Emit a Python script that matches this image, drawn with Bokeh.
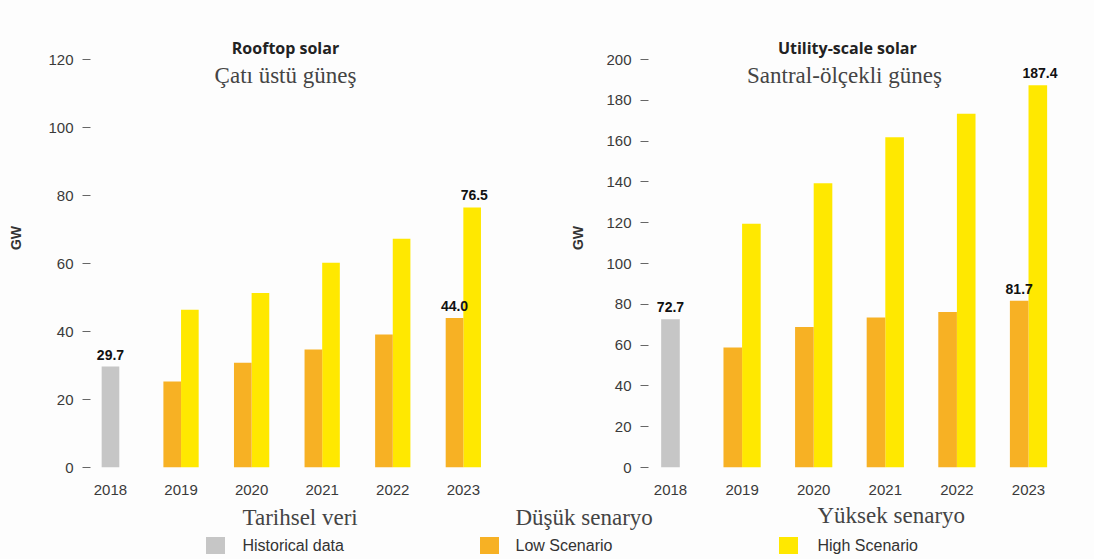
from bokeh.plotting import figure
from bokeh.layouts import column, row
from bokeh.models import ColumnDataSource, Label, Range1d, FixedTicker
from bokeh.transform import dodge
from bokeh.core.properties import value
from bokeh.embed import file_html
from bokeh.resources import INLINE

# ---------------- data ----------------
hist_years = [2018]
proj_years = [2019, 2020, 2021, 2022, 2023]
year_ticks = [2018, 2019, 2020, 2021, 2022, 2023]

rooftop_hist = [29.7]
rooftop_low = [25.3, 30.8, 34.7, 39.1, 44.0]
rooftop_high = [46.4, 51.3, 60.2, 67.3, 76.5]

utility_hist = [72.7]
utility_low = [58.8, 68.9, 73.5, 76.2, 81.7]
utility_high = [119.5, 139.3, 161.9, 173.4, 187.4]

y_ticks_rooftop = [0, 20, 40, 60, 80, 100, 120]
y_ticks_utility = [0, 20, 40, 60, 80, 100, 120, 140, 160, 180, 200]

legend_en = ["Historical data", "Low Scenario", "High Scenario"]
legend_tr = ["Tarihsel veri", "Düşük senaryo", "Yüksek senaryo"]

# ---------------- style ----------------
C_HIST = "#c6c6c6"
C_LOW = "#f7b124"
C_HIGH = "#ffe800"
BG = "#fdfdfd"
TICK_TXT = "#3a3a3a"
SANS = "Liberation Sans"
SERIF = "Liberation Serif"


def panel(title_en, title_tr, hist, low, high, y_end, y_ticks,
          x_start, x_end, border_left, border_right, title_x, t1_y, t2_y,
          gw_standoff, bar_w):
    p = figure(width=547, height=500, output_backend="svg", toolbar_location=None,
               x_range=Range1d(x_start, x_end), y_range=Range1d(0, y_end),
               min_border_left=border_left, min_border_right=border_right,
               min_border_top=8, min_border_bottom=33)
    p.background_fill_color = BG
    p.border_fill_color = BG
    p.outline_line_color = None
    p.grid.visible = False

    hs = ColumnDataSource(dict(year=hist_years, v=hist))
    ps = ColumnDataSource(dict(year=proj_years, low=low, high=high))
    p.vbar(x="year", top="v", bottom=0, width=bar_w, source=hs,
           fill_color=C_HIST, line_color=None)
    p.vbar(x=dodge("year", bar_w / 2, range=p.x_range), top="high", bottom=0,
           width=bar_w, source=ps, fill_color=C_HIGH, line_color=None)
    p.vbar(x=dodge("year", -bar_w / 2, range=p.x_range), top="low", bottom=0,
           width=bar_w, source=ps, fill_color=C_LOW, line_color=None)

    # value labels: historical value and last projected values
    lab_h = ColumnDataSource(dict(year=hist_years, v=hist,
                                  t=[f"{x:.1f}" for x in hist]))
    lab_l = ColumnDataSource(dict(year=proj_years[-1:], v=low[-1:],
                                  t=[f"{x:.1f}" for x in low[-1:]]))
    lab_u = ColumnDataSource(dict(year=proj_years[-1:], v=high[-1:],
                                  t=[f"{x:.1f}" for x in high[-1:]]))
    common = dict(text="t", y="v", text_align="center", text_baseline="bottom",
                  y_offset=-7, text_font=value(SANS), text_font_style="bold",
                  text_font_size="14px", text_color="#111111")
    p.text(x="year", source=lab_h, **common)
    p.text(x=dodge("year", -bar_w / 2, range=p.x_range), source=lab_l, **common)
    p.text(x=dodge("year", bar_w / 2 + 0.03, range=p.x_range), source=lab_u, **common)

    # titles
    p.add_layout(Label(x=title_x, y=t1_y, text=title_en, text_align="center",
                       text_baseline="middle", text_font="Open Sans",
                       text_font_style="bold", text_font_size="16px",
                       text_color="#222222"))
    p.add_layout(Label(x=title_x, y=t2_y, text=title_tr, text_align="center",
                       text_baseline="middle", text_font=SERIF,
                       text_font_size="23px", text_color="#444444"))

    # axes
    xa = p.xaxis[0]
    xa.ticker = FixedTicker(ticks=year_ticks)
    xa.axis_line_color = None
    xa.major_tick_line_color = None
    xa.minor_tick_line_color = None
    xa.major_label_standoff = 11
    xa.major_label_text_font = SANS
    xa.major_label_text_font_size = "15px"
    xa.major_label_text_color = TICK_TXT

    ya = p.yaxis[0]
    ya.ticker = FixedTicker(ticks=y_ticks)
    ya.axis_line_color = None
    ya.major_tick_in = 0
    ya.major_tick_out = 8
    ya.major_tick_line_color = "#666666"
    ya.minor_tick_line_color = None
    ya.major_label_standoff = 9
    ya.major_label_text_font = SANS
    ya.major_label_text_font_size = "15px"
    ya.major_label_text_color = TICK_TXT
    ya.axis_label = "GW"
    ya.axis_label_text_font = SANS
    ya.axis_label_text_font_style = "bold"
    ya.axis_label_text_font_size = "14px"
    ya.axis_label_text_color = "#333333"
    ya.axis_label_standoff = gw_standoff
    return p


p1 = panel("Rooftop solar", "Çatı üstü güneş", rooftop_hist, rooftop_low, rooftop_high,
           135, y_ticks_rooftop, 2017.717, 2023.81, 90, 27,
           2020.48, 123.5, 115.3, 21, 0.25)
p2 = panel("Utility-scale solar", "Santral-ölçekli  güneş", utility_hist, utility_low,
           utility_high, 225, y_ticks_utility, 2017.693, 2023.726, 101, 14,
           2020.47, 205.7, 192.0, 17, 0.26)

# ---------------- legend strip ----------------
lg = figure(width=1094, height=59, output_backend="svg", toolbar_location=None,
            x_range=Range1d(0, 1094), y_range=Range1d(0, 59),
            min_border=0, x_axis_location=None, y_axis_location=None)
lg.background_fill_color = BG
lg.border_fill_color = BG
lg.outline_line_color = None
lg.grid.visible = False

sq_x = [215, 489, 788]
txt_x = [242, 515, 817]
tr_y = [42, 42, 44]
src = ColumnDataSource(dict(sx=sq_x, tx=txt_x, ty=tr_y, en=legend_en, tr=legend_tr,
                            c=[C_HIST, C_LOW, C_HIGH]))
lg.rect(x="sx", y=14, width=19, height=17, source=src, fill_color="c", line_color=None)
lg.text(x="tx", y=14, text="en", source=src, text_baseline="middle", text_align="left",
        text_font=value(SANS), text_font_size="16px", text_color="#333333")
lg.text(x="tx", y="ty", text="tr", source=src, text_baseline="middle", text_align="left",
        text_font=value(SERIF), text_font_size="23px", text_color="#444444")

layout = column(row(p1, p2, spacing=0), lg, spacing=0)
layout.styles = {"background": BG}

open("out.html", "w").write(file_html(layout, INLINE))
